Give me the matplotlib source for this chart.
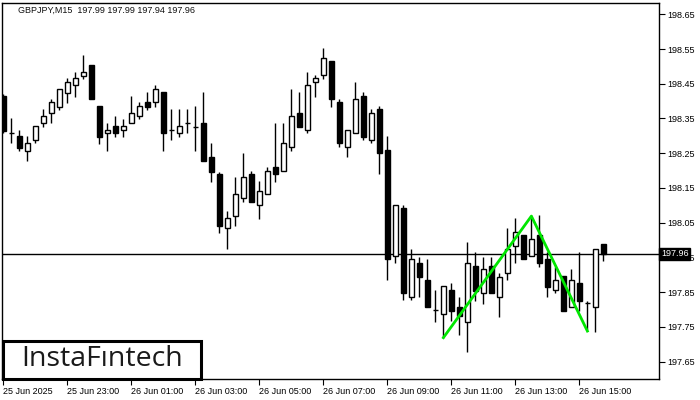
import numpy as np
import matplotlib
matplotlib.use("Agg")
import matplotlib.pyplot as plt
from matplotlib.patches import Rectangle

# ── Data (GBPJPY M15 candles) ────────────────────────────────────────────────

opens = [198.415, 198.307, 198.300, 198.257, 198.288, 198.336, 198.365, 198.382,
         198.424, 198.446, 198.472, 198.504, 198.386, 198.307, 198.328, 198.317,
         198.336, 198.357, 198.398, 198.397, 198.426, 198.317, 198.307, 198.336,
         198.326, 198.336, 198.238, 198.190, 198.034, 198.070, 198.120, 198.190,
         198.100, 198.132, 198.210, 198.198, 198.267, 198.365, 198.317, 198.455,
         198.474, 198.516, 198.397, 198.267, 198.307, 198.415, 198.288, 198.377,
         198.259, 197.954, 198.092, 197.835, 197.933, 197.885, 197.799, 197.786,
         197.856, 197.808, 197.765, 197.925, 197.847, 197.925, 197.835, 197.905,
         197.983, 198.015, 197.954, 198.015, 197.945, 197.856, 197.897, 197.807,
         197.876, 197.818, 197.807, 197.990]
highs = [198.420, 198.351, 198.317, 198.300, 198.328, 198.378, 198.406, 198.434,
         198.468, 198.485, 198.533, 198.504, 198.386, 198.336, 198.357, 198.349,
         198.415, 198.398, 198.426, 198.446, 198.426, 198.378, 198.378, 198.378,
         198.386, 198.427, 198.279, 198.197, 198.084, 198.182, 198.252, 198.199,
         198.170, 198.210, 198.338, 198.338, 198.435, 198.426, 198.485, 198.476,
         198.553, 198.516, 198.406, 198.317, 198.456, 198.426, 198.377, 198.386,
         198.300, 198.100, 198.101, 197.975, 197.952, 197.946, 197.856, 197.868,
         197.876, 197.837, 197.995, 197.966, 197.952, 197.952, 197.905, 198.034,
         198.063, 198.015, 198.072, 198.072, 197.967, 197.922, 197.897, 197.916,
         197.966, 197.826, 197.974, 197.990]
lows = [198.308, 198.280, 198.257, 198.229, 198.279, 198.326, 198.336, 198.375,
        198.396, 198.413, 198.465, 198.405, 198.277, 198.257, 198.296, 198.298,
        198.336, 198.348, 198.375, 198.384, 198.257, 198.288, 198.298, 198.307,
        198.257, 198.229, 198.168, 198.021, 197.974, 198.041, 198.111, 198.111,
        198.062, 198.132, 198.168, 198.198, 198.257, 198.326, 198.307, 198.413,
        198.465, 198.384, 198.267, 198.238, 198.307, 198.288, 198.279, 198.189,
        197.885, 197.933, 197.828, 197.828, 197.835, 197.807, 197.765, 197.717,
        197.768, 197.727, 197.679, 197.826, 197.816, 197.847, 197.778, 197.885,
        197.933, 197.945, 197.954, 197.923, 197.835, 197.847, 197.797, 197.807,
        197.797, 197.741, 197.736, 197.940]
closes = [198.315, 198.307, 198.266, 198.279, 198.328, 198.357, 198.397, 198.434,
          198.456, 198.466, 198.484, 198.405, 198.298, 198.317, 198.307, 198.328,
          198.365, 198.386, 198.384, 198.434, 198.307, 198.317, 198.328, 198.336,
          198.326, 198.229, 198.197, 198.041, 198.063, 198.132, 198.182, 198.111,
          198.141, 198.198, 198.189, 198.279, 198.357, 198.326, 198.446, 198.466,
          198.523, 198.405, 198.279, 198.317, 198.405, 198.298, 198.365, 198.250,
          197.945, 198.100, 197.847, 197.945, 197.895, 197.807, 197.799, 197.868,
          197.797, 197.780, 197.933, 197.854, 197.916, 197.847, 197.895, 197.974,
          198.023, 197.945, 198.002, 197.933, 197.866, 197.885, 197.797, 197.885,
          197.826, 197.818, 197.974, 197.960]

# pattern drawn in green: (bar index, price)
pattern_idx = [55, 66, 73]
pattern_px = [197.719, 198.069, 197.738]

last_price = 197.96
title = "GBPJPY,M15  197.99 197.99 197.94 197.96"
price_ticks = [197.65, 197.75, 197.85, 197.95, 198.05, 198.15, 198.25,
               198.35, 198.45, 198.55, 198.65]
time_labels = ["25 Jun 2025", "25 Jun 23:00", "26 Jun 01:00", "26 Jun 03:00",
               "26 Jun 05:00", "26 Jun 07:00", "26 Jun 09:00", "26 Jun 11:00",
               "26 Jun 13:00", "26 Jun 15:00"]
time_idx = [0, 8, 16, 24, 32, 40, 48, 56, 64, 72]

# ── Plot ─────────────────────────────────────────────────────────────────────

FONT = "Liberation Sans"
W, H = 700, 400

fig = plt.figure(figsize=(7, 4), dpi=100)
ax = fig.add_axes([2 / W, 21 / H, 657 / W, 376 / H])

o, h, l, c = map(np.array, (opens, highs, lows, closes))
x = np.arange(len(o))
up = c > o
down = c < o
flat = c == o

ax.vlines(x, l, h, color="black", lw=1, zorder=2)
ax.bar(x[up], (c - o)[up], bottom=o[up], width=0.58, color="white",
       edgecolor="black", linewidth=1, zorder=3)
ax.bar(x[down], (o - c)[down], bottom=c[down], width=0.58, color="black",
       edgecolor="black", linewidth=1, zorder=3)
ax.hlines(o[flat], x[flat] - 0.33, x[flat] + 0.33, color="black", lw=1, zorder=3)

ax.plot(pattern_idx, pattern_px, color="#00e600", lw=2, zorder=4)
ax.axhline(last_price, color="black", lw=1, zorder=1)

ax.set_xlim(-0.17, 81.95)
ax.set_ylim(197.600, 198.6825)

ax.yaxis.tick_right()
ax.set_yticks(price_ticks)
ax.set_yticklabels([f"{p:.2f}" for p in price_ticks], fontsize=6.5, family=FONT)
ax.set_xticks(time_idx)
ax.set_xticklabels(time_labels, fontsize=6.5, family=FONT, ha="left")
ax.tick_params(axis="both", direction="out", length=4, width=0.8, pad=2)
for sp in ax.spines.values():
    sp.set_linewidth(1)

# current price tag on the right axis (covers the 197.95 label, as in MT4)
ax.text(1.003, last_price, f"{last_price:.2f}", transform=ax.get_yaxis_transform(),
        ha="left", va="center", fontsize=6.5, family=FONT, color="white",
        bbox=dict(boxstyle="square,pad=0.2", fc="black", ec="black"), zorder=5,
        clip_on=False)

fig.text(18 / W, 1 - 10.7 / H, title, fontsize=6.5, family=FONT,
         color="#101010", va="center", ha="left")

# logo box
fig.add_artist(Rectangle((3 / W, 21 / H), 198 / W, 38 / H, transform=fig.transFigure,
                         fc="white", ec="black", lw=2.2, zorder=10))
fig.text(102 / W, 1 - 359.5 / H, "InstaF\u0131ntech", fontsize=20.5,
         family="Open Sans", fontweight="medium", color="#1a1a1a",
         ha="center", va="center", zorder=11)

fig.savefig("out.png", dpi=100)
